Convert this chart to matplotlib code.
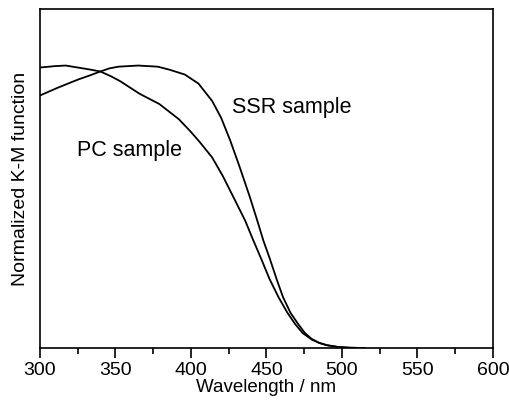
import numpy as np
import matplotlib
matplotlib.use("Agg")
import matplotlib.pyplot as plt
from matplotlib.ticker import MultipleLocator

plt.rcParams['font.family'] = ['Liberation Sans', 'DejaVu Sans']

# PC sample
pc_wl = [300, 310, 317, 325, 333, 340, 347, 353, 366, 379, 392, 400, 406, 414,
         421, 429, 436, 441, 447, 452, 458, 464, 469, 474, 480, 485, 490, 497, 505, 515]
pc_km = [0.993, 0.998, 1.0, 0.993, 0.986, 0.979, 0.962, 0.945, 0.90, 0.864, 0.81,
         0.765, 0.728, 0.675, 0.61, 0.525, 0.45, 0.385, 0.31, 0.245, 0.18, 0.124,
         0.085, 0.053, 0.03, 0.018, 0.01, 0.004, 0.001, 0.0]

# SSR sample
ssr_wl = [300, 312, 325, 333, 340, 346, 352, 365, 378, 386, 396, 405, 414, 420,
          426, 432, 439, 444, 448, 452, 457, 461, 466, 471, 475.5, 480, 485, 490,
          497, 505, 515]
ssr_km = [0.894, 0.922, 0.95, 0.965, 0.979, 0.99, 0.996, 1.0, 0.996, 0.985, 0.968,
          0.936, 0.875, 0.815, 0.735, 0.645, 0.535, 0.45, 0.38, 0.32, 0.24, 0.18,
          0.124, 0.085, 0.053, 0.032, 0.018, 0.01, 0.004, 0.001, 0.0]

fig = plt.figure(figsize=(5.1, 4.04), dpi=100)
ax = fig.add_axes([0.0784, 0.1386, 0.888, 0.839])

ax.plot(pc_wl, pc_km, color='black', lw=1.3, solid_joinstyle='round')
ax.plot(ssr_wl, ssr_km, color='black', lw=1.3, solid_joinstyle='round')

ax.text(427.5, 0.852, 'SSR sample', fontsize=15.5, va='center', ha='left')
ax.text(359.5, 0.70, 'PC sample', fontsize=15.5, va='center', ha='center')

ax.set_xlim(300, 600)
ax.set_ylim(0, 1.2)
ax.xaxis.set_major_locator(MultipleLocator(50))
ax.xaxis.set_minor_locator(MultipleLocator(25))
ax.tick_params(axis='x', which='major', direction='out', length=7, width=1.2,
               labelsize=14, pad=3)
ax.tick_params(axis='x', which='minor', direction='out', length=4, width=1.2)
ax.set_yticks([])
for s in ax.spines.values():
    s.set_linewidth(1.2)

ax.set_xlabel('Wavelength / nm', fontsize=13.5, labelpad=0)
ax.set_ylabel('Normalized K-M function', fontsize=14, labelpad=8)

fig.savefig('out.png', dpi=100)
